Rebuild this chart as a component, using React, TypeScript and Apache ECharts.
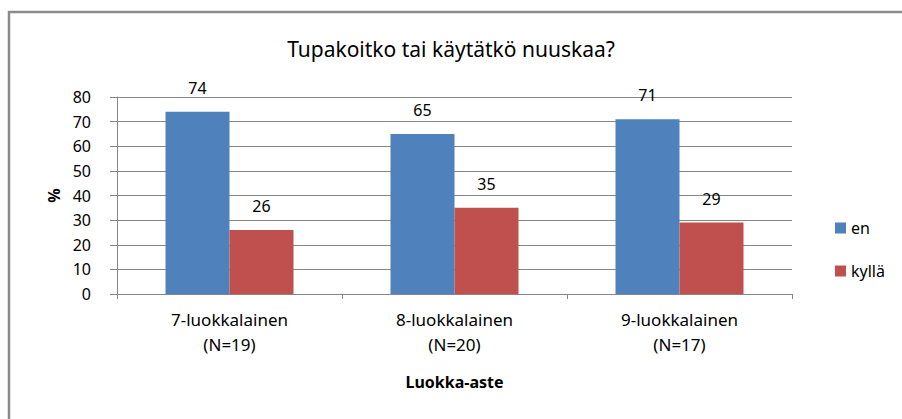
import React, { useEffect, useRef } from "react";
import * as echarts from "echarts";

const title = "Tupakoitko tai käytätkö nuuskaa?";
const categories = ["7-luokkalainen\n(N=19)", "8-luokkalainen\n(N=20)", "9-luokkalainen\n(N=17)"];
const seriesNames = ["en", "kyllä"];
const enValues = [74, 65, 71];
const kyllaValues = [26, 35, 29];
const xAxisName = "Luokka-aste";
const yAxisName = "%";

const FONT = "'Noto Sans', 'Open Sans', sans-serif";

export default function App() {
  const ref = useRef<HTMLDivElement>(null);
  useEffect(() => {
    if (!ref.current) return;
    const chart = echarts.init(ref.current, undefined, { renderer: "svg" });
    const labelStyle = {
      show: true,
      position: "top" as const,
      distance: 16,
      color: "#000",
      fontSize: 16,
      fontFamily: FONT,
    };
    chart.setOption({
      animation: false,
      backgroundColor: "#fff",
      textStyle: { fontFamily: FONT },
      title: {
        text: title,
        left: "center",
        top: 33,
        textStyle: { fontSize: 21, fontWeight: "normal", color: "#000", fontFamily: FONT },
      },
      graphic: [
        {
          type: "rect",
          shape: { x: 9, y: 12, width: 1000, height: 1000 },
          style: { fill: "none", stroke: "#8a8a8a", lineWidth: 2.5 },
          silent: true,
        },
      ],
      legend: {
        orient: "vertical",
        left: 830,
        top: 215,
        itemWidth: 11,
        itemHeight: 11,
        itemGap: 27,
        icon: "rect",
        textStyle: { fontSize: 16, color: "#000", fontFamily: FONT },
        data: seriesNames,
      },
      grid: { left: 117, right: 110, top: 97, bottom: 125, containLabel: false },
      xAxis: {
        type: "category",
        data: categories,
        name: xAxisName,
        nameLocation: "middle",
        nameGap: 80,
        nameTextStyle: { fontSize: 16, fontWeight: "bold", color: "#000", fontFamily: FONT },
        axisLine: { lineStyle: { color: "#868686" } },
        axisTick: { show: true, length: 5, lineStyle: { color: "#868686" } },
        axisLabel: { color: "#000", fontSize: 17, lineHeight: 25, margin: 13, fontFamily: FONT },
      },
      yAxis: {
        type: "value",
        min: 0,
        max: 80,
        interval: 10,
        name: yAxisName,
        nameLocation: "middle",
        nameRotate: 90,
        nameGap: 54,
        nameTextStyle: { fontSize: 16, fontWeight: "bold", color: "#000", fontFamily: FONT },
        axisLine: { show: true, lineStyle: { color: "#868686" } },
        axisTick: { show: true, length: 7, lineStyle: { color: "#868686" } },
        axisLabel: { color: "#000", fontSize: 16, margin: 26, fontFamily: FONT },
        splitLine: { lineStyle: { color: "#868686" } },
      },
      series: [
        {
          name: seriesNames[0],
          type: "bar",
          data: enValues,
          barWidth: 64,
          barGap: "0%",
          itemStyle: { color: "#4F81BD" },
          label: labelStyle,
        },
        {
          name: seriesNames[1],
          type: "bar",
          data: kyllaValues,
          barWidth: 64,
          barGap: "0%",
          itemStyle: { color: "#C0504D" },
          label: labelStyle,
        },
      ],
    });
    return () => chart.dispose();
  }, []);
  return (
    <div
      ref={ref}
      style={{ position: "absolute", left: 0, top: 0, width: 902, height: 419 }}
    />
  );
}
